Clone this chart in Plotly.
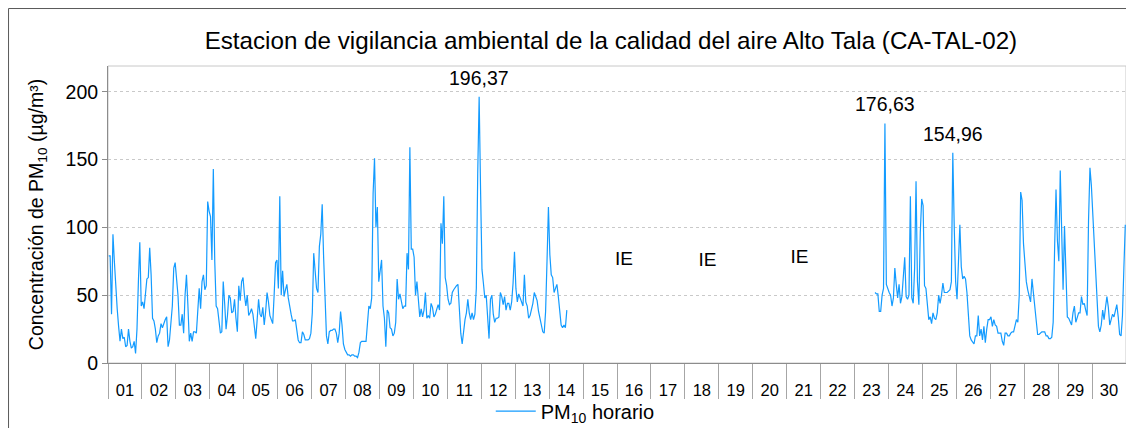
import numpy as np
import plotly.graph_objects as go

# ---------------- data (hourly PM10, µg/m³) ----------------
N = None
day01 = [79, 79, 36, 95, 75, 55, 40, 27, 16, 25, 18, 19, 12, 13, 25, 16, 11, 12, 16, 7, 25, 60, 89, 42]
day02 = [45, 40, 55, 62, 63, 85, 65, 33, 31, 25, 15, 20, 22, 29, 26, 30, 32, 34, 12, 17, 27, 42, 70, 74]
day03 = [62, 50, 28, 28, 36, 22, 50, 65, 43, 16, 22, 16, 23, 23, 22, 40, 55, 40, 60, 65, 54, 57, 119, 112]
day04 = [108, 76, 143, 75, 42, 40, 28, 22, 23, 60, 44, 25, 35, 50, 48, 37, 38, 47, 33, 23, 57, 46, 60, 63]
day05 = [50, 42, 50, 35, 37, 40, 36, 28, 18, 32, 47, 36, 34, 41, 28, 38, 52, 45, 35, 32, 29, 50, 74, 76]
day06 = [55, 123, 50, 68, 49, 54, 58, 48, 41, 36, 31, 31, 32, 25, 17, 15, 15, 23, 21, 17, 17, 17, 18, 22]
day07 = [37, 81, 68, 55, 52, 86, 95, 117, 78, 50, 20, 14, 23, 24, 24, 25, 25, 22, 15, 22, 38, 28, 14, 10]
day08 = [8, 6, 6, 5, 6, 6, 5, 5, 4, 8, 15, 16, 16, 16, 16, 29, 42, 40, 48, 125, 151, 100, 115, 60]
day09 = [69, 76, 42, 33, 12, 39, 37, 26, 25, 20, 22, 30, 62, 47, 51, 44, 40, 42, 42, 81, 69, 159, 84, 84]
day10 = [78, 50, 60, 47, 34, 40, 34, 39, 52, 33, 35, 33, 44, 41, 34, 36, 39, 43, 39, 103, 88, 123, 63, 57]
day11 = [47, 43, 44, 52, 54, 56, 57, 58, 37, 22, 14, 25, 32, 37, 47, 37, 32, 37, 32, 36, 55, 140, 196.37, 128]
day12 = [69, 59, 48, 50, 37, 18, 47, 50, 36, 30, 33, 33, 34, 52, 49, 43, 49, 39, 44, 44, 39, 45, 59, 82]
day13 = [55, 45, 51, 48, 45, 42, 65, 45, 42, 33, 35, 40, 44, 52, 48, 46, 38, 32, 27, 23, 22, 38, 75, 115]
day14 = [80, 65, 63, 52, 55, 58, 49, 38, 28, 26, 28, 26, 39, N, N, N, N, N, N, N, N, N, N, N]
day15 = [N] * 24
day16 = [N] * 24
day17 = [N] * 24
day18 = [N] * 24
day19 = [N] * 24
day20 = [N] * 24
day21 = [N] * 24
day22 = [N] * 24
day23 = [N, N, N, N, N, N, N, N, N, N, N, N, N, N, 52, 51, 51, 38, 38, 50, 55, 176.63, 58, 54]
day24 = [52, 50, 42, 48, 70, 58, 48, 58, 44, 49, 62, 78, 49, 47, 50, 123, 48, 44, 70, 134, 60, 43, 96, 121]
day25 = [116, 57, 55, 45, 32, 34, 29, 37, 33, 32, 37, 50, 44, 50, 59, 52, 52, 52, 53, 54, 60, 154.96, 101, 60]
day26 = [47, 71, 102, 71, 62, 64, 62, 52, 39, 20, 17, 15, 14, 20, 20, 35, 20, 25, 17, 27, 15, 25, 32, 32]
day27 = [34, 27, 32, 28, 27, 22, 22, 22, 16, 13, 22, 22, 20, 20, 22, 23, 23, 28, 32, 30, 50, 126, 120, 88]
day28 = [70, 60, 54, 50, 45, 62, 52, 38, 30, 21, 21, 22, 23, 23, 23, 20, 20, 18, 18, 19, 30, 84, 128, 90]
day29 = [75, 142, 103, 54, 101, 59, 34, 33, 31, 28, 37, 42, 30, 33, 37, 37, 49, 43, 44, 39, 35, 105, 144, 131]
day30 = [108, 84, 62, 42, 27, 23, 28, 39, 32, 41, 49, 41, 28, 32, 36, 34, 39, 43, 34, 21, 20, 35, 70, 102]

day_labels = ["%02d" % d for d in range(1, 31)]

# labelled peaks
peak_values = [196.37, 176.63, 154.96]
peak_texts = ["196,37", "176,63", "154,96"]

# "IE" (información insuficiente) marks: hour position and height
ie_hours = [365, 424, 489]
ie_values = [76, 75, 77.5]
ie_texts = ["IE", "IE", "IE"]

series_name = "PM<sub>10</sub> horario"

# ---------------- build ----------------
days = [day01, day02, day03, day04, day05, day06, day07, day08, day09, day10,
        day11, day12, day13, day14, day15, day16, day17, day18, day19, day20,
        day21, day22, day23, day24, day25, day26, day27, day28, day29, day30]
values = [v for d in days for v in d]
hours = np.arange(len(values)) + 0.5

FONT = "Liberation Sans, Arial, sans-serif"
LINE = "#139BFF"

fig = go.Figure()
fig.add_trace(go.Scatter(
    x=hours, y=values, mode="lines", name=series_name,
    line=dict(color=LINE, width=1.2), connectgaps=False,
))
fig.add_trace(go.Scatter(
    x=ie_hours, y=ie_values, mode="text", text=ie_texts,
    textfont=dict(family=FONT, size=19, color="#000000"),
    showlegend=False, hoverinfo="skip",
))

for val, txt in zip(peak_values, peak_texts):
    idx = values.index(val)
    fig.add_annotation(x=hours[idx], y=val, text=txt, showarrow=False,
                       yanchor="bottom", yshift=6,
                       font=dict(family=FONT, size=19.5, color="#000000"))

n_days = len(days)
# the page body adds an 8px offset, so margins are compensated accordingly
fig.update_layout(
    width=1134, height=428, autosize=False,
    margin=dict(l=100, r=16, t=58, b=73, autoexpand=False),
    paper_bgcolor="white", plot_bgcolor="white",
    font=dict(family=FONT, color="#000000"),
    title=dict(text="Estacion de vigilancia ambiental de la calidad del aire Alto Tala (CA-TAL-02)",
               x=0.494, xanchor="center", xref="paper", y=0.925, yanchor="middle",
               font=dict(family=FONT, size=24.2, color="#000000")),
    showlegend=True,
    legend=dict(orientation="h", x=0.376, xanchor="left", y=-0.162, yanchor="middle",
                font=dict(family=FONT, size=20, color="#000000"),
                bgcolor="rgba(0,0,0,0)", itemwidth=40),
    xaxis=dict(
        range=[0, 24 * n_days], showgrid=False, zeroline=False,
        showline=True, linecolor="#8C8C8C", linewidth=1,
        tickmode="array", tickvals=[24 * i + 12 for i in range(n_days)],
        ticktext=day_labels, ticks="outside", ticklen=12, tickcolor="rgba(0,0,0,0)",
        tickfont=dict(family=FONT, size=16.5, color="#000000"),
        minor=dict(tick0=0, dtick=24, ticks="outside", ticklen=35,
                   tickcolor="#A6A6A6", tickwidth=1, showgrid=False),
    ),
    yaxis=dict(
        range=[0, 219], tickmode="array", tickvals=[0, 50, 100, 150, 200],
        showgrid=True, gridcolor="#C9C9C9", griddash="dot", gridwidth=1,
        zeroline=False, showline=True, linecolor="#8C8C8C", linewidth=1,
        ticks="outside", ticklen=5, tickcolor="#8C8C8C",
        tickfont=dict(family=FONT, size=19.5, color="#000000"),
        title=dict(text="Concentración de PM<sub>10</sub> (µg/m³)", standoff=16,
                   font=dict(family=FONT, size=19.5, color="#000000")),
    ),
)

# plot-area frame (light) and outer chart frame (left/top edges visible)
fig.add_shape(type="rect", xref="paper", yref="paper", x0=0, y0=0, x1=1, y1=1,
              line=dict(color="#C8C8C8", width=1), fillcolor="rgba(0,0,0,0)", layer="below")
fig.add_shape(type="rect", xref="paper", yref="paper",
              x0=-0.0977, y0=-0.30, x1=1.02, y1=1.1935,
              line=dict(color="#595959", width=1), fillcolor="rgba(0,0,0,0)")

fig.write_html("out.html")
